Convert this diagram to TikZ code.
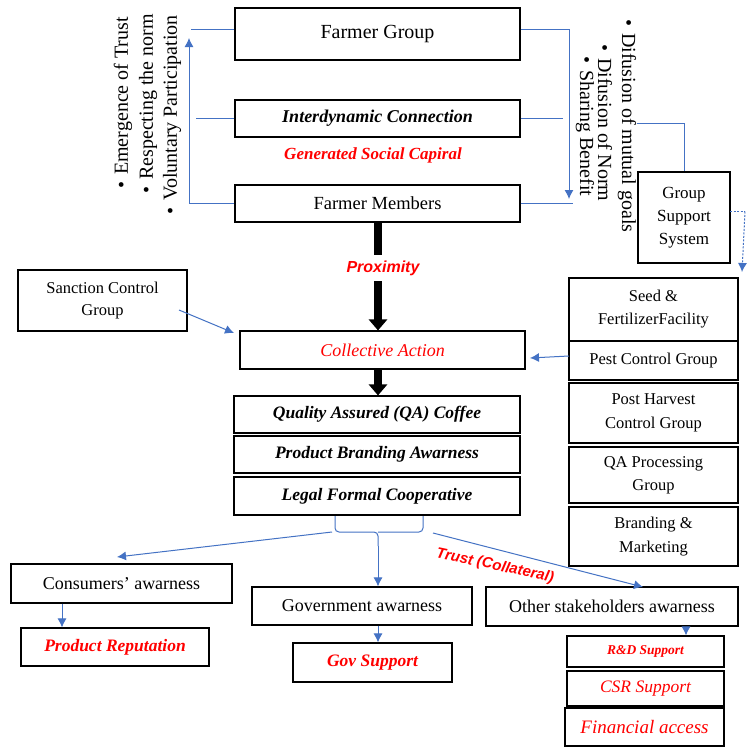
\documentclass[tikz,border=0pt]{standalone}
\usepackage{fontspec}
\setmainfont{Liberation Serif}
\setsansfont{Liberation Sans}
\usetikzlibrary{arrows.meta}
\definecolor{lineblue}{HTML}{4472C4}
\definecolor{txtred}{HTML}{FF0000}
\newcommand{\fsz}[2]{\fontsize{#1}{#2}\selectfont}
\begin{document}
\begin{tikzpicture}[x=1pt,y=-1pt,
  box/.style={draw, line width=1.1pt, inner sep=0pt, align=center, font=\fsz{18}{22}},
  bl/.style={draw=lineblue, line width=1pt},
  blarrow/.style={bl, -{Latex[length=9pt,width=9pt]}},
  bigarrow/.style={draw=black, line width=8pt, -{Triangle[length=11pt,width=18pt]}},
  rtext/.style={inner sep=0pt, font=\fsz{20}{22}},
  redlab/.style={text=txtred}
]
\useasboundingbox (0,0) rectangle (747,747);
\fill[white] (0,0) rectangle (747,747);

% column coordinates
\coordinate (c62) at (62,0);
\coordinate (c378) at (378,0);
\coordinate (c686) at (686,0);

% top boxes
\node[box, minimum width=285pt, minimum height=52pt, font=\fsz{20}{22}] (fg) at (377.5,34) {Farmer Group};
\node[box, minimum width=285pt, minimum height=37pt, font=\fsz{18}{22}\bfseries\itshape] (idc) at (377.5,118.5) {Interdynamic Connection};
\node[redlab, inner sep=0pt, font=\fsz{17}{20}\bfseries\itshape] (gsc) at (373,155) {Generated Social Capiral};
\node[box, minimum width=285pt, minimum height=37pt, font=\fsz{18.5}{22}] (fm) at (377.5,203.5) {Farmer Members};

% left rotated list
\node[rtext, rotate=90, anchor=west] (t1) at (123,189) {\textbullet\hspace{7pt}Emergence of Trust};
\node[rtext, rotate=90, anchor=west] (t2) at (148,194) {\textbullet\hspace{7pt}Respecting the norm};
\node[rtext, rotate=90, anchor=west] (t3) at (172,215) {\textbullet\hspace{7pt}Voluntary Participation};

% right rotated list
\node[rtext, rotate=-90, anchor=west] (r1) at (627,19) {\textbullet\hspace{7pt}Difusion of mutual goals};
\node[rtext, rotate=-90, anchor=west] (r2) at (605,44) {\textbullet\hspace{7pt}Difusion of Norm};
\node[rtext, rotate=-90, anchor=west] (r3) at (585,56) {\textbullet\hspace{7pt}Sharing Benefit};

% left bracket
\coordinate (lfg) at (191,29);
\coordinate (ltop) at (189,38);
\coordinate (lcorner) at (189,203.5);
\draw[bl] (lfg -| fg.west) -- (lfg);
\draw[bl] (idc.west) -- ++(-38,0);
\draw[blarrow] (fm.west) -- (lcorner) -- (ltop);

% right bracket
\coordinate (rfg) at (569,29);
\coordinate (rbot) at (569,199);
\draw[bl] (rfg -| fg.east) -- (rfg);
\draw[blarrow] (rfg) -- (rbot);
\draw[bl] (idc.east) -- ++(42,0);
\draw[bl] (fm.east) -- ++(52,0);

% group support system
\node[box, minimum width=92pt, minimum height=91pt, font=\fsz{17}{23}] (gss) at (684,217.5) {Group\\Support\\System};
\coordinate (mg) at (637,123);
\draw[bl] (mg) -| (gss.north);
\coordinate (gsr) at (730,211.5);
\coordinate (gsc2) at (745,211.5);
\coordinate (gsd) at (742,272);
\draw[bl, dash pattern=on 2pt off 1.5pt] (gsr) -- (gsc2);
\draw[blarrow, dash pattern=on 2pt off 1.5pt] (gsc2) -- (gsd);

% right column boxes
\node[box, minimum width=169pt, minimum height=63pt, font=\fsz{16.5}{23}] (seed) at (653.5,309.5) {Seed \&\\FertilizerFacility};
\node[box, minimum width=169pt, minimum height=39pt, font=\fsz{16.5}{23}] (pest) at (653.5,360.5) {Pest Control Group};
\node[box, minimum width=169pt, minimum height=60pt, font=\fsz{16.5}{24}] (post) at (653.5,413) {Post Harvest\\Control Group};
\node[box, minimum width=169pt, minimum height=56pt, font=\fsz{16.5}{23}] (qap) at (653.5,475) {QA Processing\\Group};
\node[box, minimum width=169pt, minimum height=59pt, font=\fsz{16.5}{24}] (brand) at (653.5,536.5) {Branding \&\\Marketing};

% sanction
\node[box, minimum width=169pt, minimum height=61pt, font=\fsz{16.5}{22}] (sanc) at (102.5,300.5) {Sanction Control\\Group};

% collective action
\node[box, minimum width=285pt, minimum height=38pt, font=\fsz{18}{22}\itshape, text=txtred] (ca) at (382.5,350) {Collective Action};

% proximity arrow
\draw[bigarrow] (fm.south -| c378) -- (ca.north -| c378);
\node[redlab, fill=white, inner xsep=1pt, inner ysep=6pt, font=\fsz{16}{18}\sffamily\bfseries\itshape] (prox) at (383,268) {Proximity};

% sanction & pest arrows
\coordinate (sa1) at (179,310);
\coordinate (sa2) at (234,333);
\draw[blarrow] (sa1) -- (sa2);
\coordinate (pa1) at (569,356);
\coordinate (pa2) at (530,358);
\draw[blarrow] (pa1) -- (pa2);

% central stack
\node[box, minimum width=286pt, minimum height=37pt, font=\fsz{17.5}{22}\bfseries\itshape] (qa) at (377,414.5) {Quality Assured (QA) Coffee};
\node[box, minimum width=286pt, minimum height=37pt, font=\fsz{17.5}{22}\bfseries\itshape] (pba) at (377,454.5) {Product Branding Awarness};
\node[box, minimum width=286pt, minimum height=38pt, font=\fsz{17.5}{22}\bfseries\itshape] (lfc) at (377,496) {Legal Formal Cooperative};
\draw[bigarrow] (ca.south -| c378) -- (qa.north -| c378);

% brace
\coordinate (b1) at (335,516);
\coordinate (b2) at (423,516);
\coordinate (bm) at (378,532);
\coordinate (bt) at (378,546);
\draw[bl, rounded corners=4pt] (b1) |- (bm) -- (bt);
\draw[bl, rounded corners=4pt] (b2) |- (bm);

% bottom boxes
\node[box, minimum width=221pt, minimum height=39pt] (cons) at (121.5,583.5) {Consumers’ awarness};
\node[box, minimum width=188pt, minimum height=38pt, font=\fsz{17.5}{22}\bfseries\itshape, text=txtred] (prep) at (115,647) {Product Reputation};
\node[box, minimum width=220pt, minimum height=38pt] (gov) at (362,606) {Government awarness};
\node[box, minimum width=159pt, minimum height=39pt, font=\fsz{17.5}{22}\bfseries\itshape, text=txtred] (govs) at (372.5,662.5) {Gov Support};
\node[box, minimum width=252pt, minimum height=39pt] (other) at (612,606.5) {Other stakeholders awarness};
\node[box, minimum width=157pt, minimum height=31pt, font=\fsz{13.5}{16}\bfseries\itshape, text=txtred] (rd) at (645.5,651.5) {R\&D Support};
\node[box, minimum width=157pt, minimum height=35pt, font=\fsz{17.5}{22}\itshape, text=txtred] (csr) at (645.5,688.5) {CSR Support};
\node[box, minimum width=159pt, minimum height=38pt, font=\fsz{19}{22}\itshape, text=txtred] (fin) at (644.5,727) {Financial access};

% bottom arrows
\coordinate (ca1) at (332,532);
\coordinate (ca2) at (117,557);
\draw[blarrow] (ca1) -- (ca2);
\draw[blarrow] (bt) -- (bt |- gov.north);
\coordinate (oa1) at (433,533);
\coordinate (oa2) at (643,587);
\draw[blarrow] (oa1) -- (oa2);
\node[redlab, rotate=-12, inner sep=0pt, font=\fsz{15}{18}\sffamily\bfseries\itshape] (trust) at (495,566) {Trust (Collateral)};

\draw[blarrow] (cons.south -| c62) -- (prep.north -| c62);
\draw[blarrow] (gov.south -| c378) -- (govs.north -| c378);
\draw[blarrow] (other.south -| c686) -- (rd.north -| c686);
\end{tikzpicture}
\end{document}
